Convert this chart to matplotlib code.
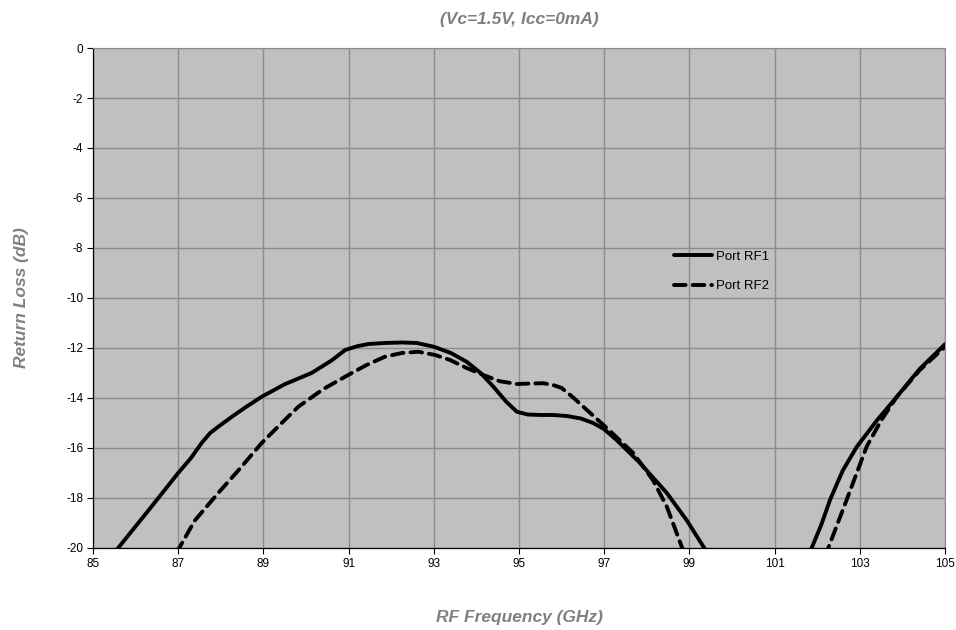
import matplotlib
matplotlib.use("Agg")
import matplotlib.pyplot as plt

plt.rcParams['font.family'] = ['Liberation Sans', 'DejaVu Sans']

# Port RF1 (solid)
freq_rf1 = [85.3, 85.59, 86.3, 87.0, 87.3, 87.55, 87.75, 87.94, 88.26, 88.6, 88.96,
            89.5, 90.13, 90.6, 90.92, 91.2, 91.47, 91.85, 92.25, 92.6, 93.0, 93.4,
            93.77, 94.1, 94.4, 94.7, 94.95, 95.2, 95.49, 95.8, 96.12, 96.45, 96.74,
            97.0, 97.29, 97.84, 98.47, 98.94, 99.33, 99.8, 100.5, 101.3, 101.87,
            102.1, 102.30, 102.6, 102.93, 103.4, 103.87, 104.4, 105.0]
rl_rf1 = [-20.6, -20.0, -18.5, -17.0, -16.4, -15.8, -15.4, -15.15, -14.75, -14.35, -13.95,
          -13.45, -13.0, -12.5, -12.08, -11.93, -11.84, -11.8, -11.78, -11.8, -11.95, -12.2,
          -12.55, -13.0, -13.55, -14.15, -14.55, -14.66, -14.68, -14.68, -14.72, -14.82, -15.0,
          -15.25, -15.68, -16.6, -17.8, -18.9, -19.95, -21.2, -22.5, -21.6, -20.0,
          -19.05, -18.08, -16.9, -15.95, -14.9, -13.95, -12.85, -11.85]

# Port RF2 (dashed)
freq_rf2 = [86.7, 87.04, 87.39, 87.94, 88.41, 88.96, 89.4, 89.82, 90.4, 90.99, 91.4,
            91.85, 92.25, 92.64, 93.03, 93.38, 93.77, 94.16, 94.55, 94.95, 95.3,
            95.57, 95.8, 96.0, 96.25, 96.51, 97.06, 97.68, 98.15, 98.47, 98.70,
            98.82, 99.0, 100.0, 101.0, 101.9, 102.26, 102.69, 103.16, 103.5, 103.87,
            104.41, 105.0]
rl_rf2 = [-20.8, -19.95, -18.9, -17.8, -16.9, -15.8, -15.05, -14.35, -13.65, -13.08, -12.7,
          -12.35, -12.2, -12.15, -12.28, -12.48, -12.8, -13.08, -13.33, -13.44, -13.42,
          -13.41, -13.48, -13.6, -13.95, -14.35, -15.2, -16.2, -17.3, -18.35, -19.4,
          -19.95, -20.8, -23.0, -23.0, -21.2, -20.0, -18.08, -15.95, -14.9, -13.95,
          -12.88, -11.95]

xticks = [85, 87, 89, 91, 93, 95, 97, 99, 101, 103, 105]
yticks = [0, -2, -4, -6, -8, -10, -12, -14, -16, -18, -20]

fig = plt.figure(figsize=(9.56, 6.3), dpi=100)
ax = fig.add_axes([0.0973, 0.1302, 0.8912, 0.7936])
ax.set_facecolor('#C0C0C0')

ax.plot(freq_rf1, rl_rf1, color='black', lw=2.8, solid_capstyle='round',
        solid_joinstyle='round', label='Port RF1')
ax.plot(freq_rf2, rl_rf2, color='black', lw=2.8, dashes=(3.0, 1.8),
        dash_capstyle='round', dash_joinstyle='round', label='Port RF2')

ax.set_xlim(85, 105)
ax.set_ylim(-20, 0)
ax.set_xticks(xticks)
ax.set_yticks(yticks)
ax.set_yticklabels([str(v) for v in yticks])
ax.tick_params(labelsize=8.5, length=4, width=0.8, direction='out', pad=3)
ax.grid(True, color='#8C8C8C', lw=1.0)
ax.set_axisbelow(True)
for s in ['top', 'right']:
    ax.spines[s].set_color('#8C8C8C')
for s in ['left', 'bottom']:
    ax.spines[s].set_color('black')
    ax.spines[s].set_linewidth(0.9)

lab = dict(fontsize=12.5, fontstyle='italic', fontweight='bold', color='#808080')
ax.set_title('(Vc=1.5V, Icc=0mA)', pad=17, **lab)
ax.set_xlabel('RF Frequency (GHz)', labelpad=29, **lab)
ax.set_ylabel('Return Loss (dB)', labelpad=27, **lab)

leg = ax.legend(loc='upper left', bbox_to_anchor=(0.668, 0.618), frameon=False,
                fontsize=9.5, handlelength=2.9, handletextpad=0.25, labelspacing=1.3)

fig.savefig('out.png', dpi=100)
